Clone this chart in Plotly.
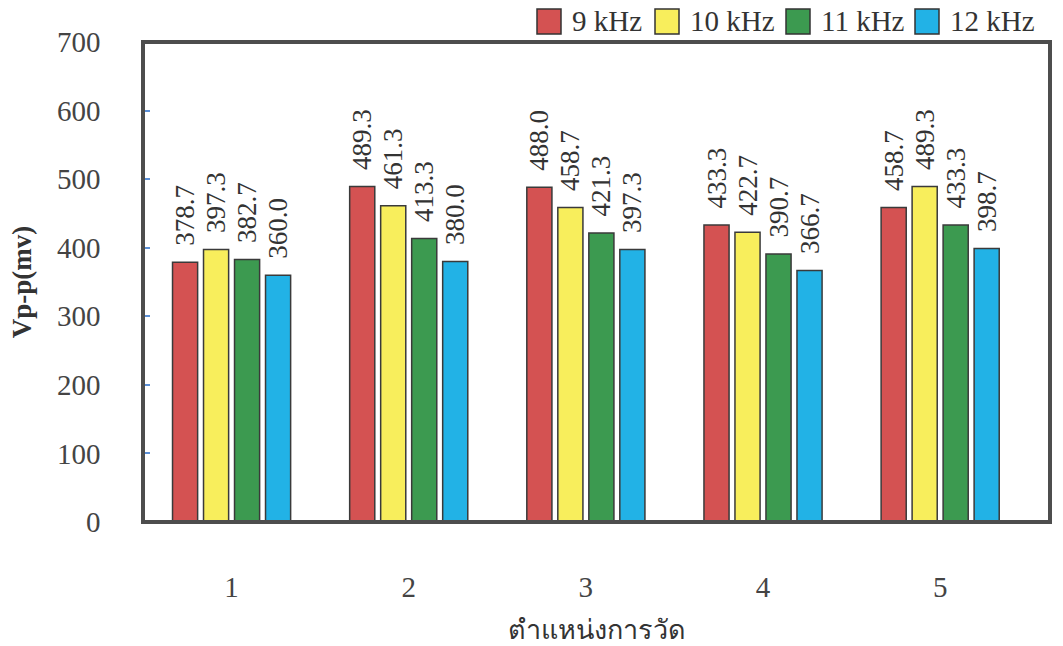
import plotly.graph_objects as go

positions = [1, 2, 3, 4, 5]
series_names = ["9 kHz", "10 kHz", "11 kHz", "12 kHz"]
vpp_9k = [378.7, 489.3, 488.0, 433.3, 458.7]
vpp_10k = [397.3, 461.3, 458.7, 422.7, 489.3]
vpp_11k = [382.7, 413.3, 421.3, 390.7, 433.3]
vpp_12k = [360.0, 380.0, 397.3, 366.7, 398.7]
colors = ["#d45252", "#f8ee5c", "#3c9a50", "#22b2e6"]

serif = "Liberation Serif, Times New Roman, serif"
W, H = 1063, 646
ML, MR, MT, MB = 143, 13, 42, 124
PW, PH = W - ML - MR, H - MT - MB


def px_to_paper(px, py):
    return (px - ML) / PW, (H - MB - py) / PH


fig = go.Figure()
for name, vals, col in zip(series_names, [vpp_9k, vpp_10k, vpp_11k, vpp_12k], colors):
    fig.add_trace(go.Bar(
        x=positions, y=vals, name=name, showlegend=False,
        marker=dict(color=col, line=dict(color="#3a3a3a", width=1.5)),
        # non-breaking spaces lift the rotated value label off the bar top
        text=["\u00a0\u00a0" + f"{v:.1f}" for v in vals],
        textposition="outside", textangle=-90,
        textfont=dict(family=serif, size=27, color="#333333"),
        cliponaxis=False,
    ))

fig.update_layout(
    width=W, height=H,
    margin=dict(l=ML, r=MR, t=MT, b=MB, autoexpand=False),
    paper_bgcolor="white", plot_bgcolor="white",
    barmode="group", bargap=0.30, bargroupgap=0.19,
    font=dict(family=serif, color="#333333"),
    uniformtext=dict(mode="show", minsize=27),
)

fig.update_xaxes(
    range=[0.5, 5.62], tickvals=positions, ticktext=[str(p) for p in positions],
    showgrid=False, zeroline=False, showline=False, ticks="",
    ticklabelstandoff=45, automargin=False,
    tickfont=dict(family=serif, size=29, color="#444444"),
    title=dict(text="ตำแหน่งการวัด", font=dict(family=serif, size=27, color="#333333"), standoff=18),
)
fig.update_yaxes(
    range=[0, 700], dtick=100, showgrid=False, zeroline=False,
    showline=True, linecolor="#5b8fd6", linewidth=1.5,
    ticks="inside", ticklen=7, tickcolor="#5b8fd6", tickwidth=1.5,
    ticklabelstandoff=35, automargin=False,
    tickfont=dict(family=serif, size=29, color="#444444"),
    title=dict(text="<b>Vp-p(mv)</b>", font=dict(family=serif, size=27, color="#333333"), standoff=18),
)

# Heavy frame around the plotting area
fig.add_shape(type="rect", xref="paper", yref="paper", x0=0, y0=0, x1=1, y1=1,
              line=dict(color="#4d4d4d", width=4), layer="above")

# Legend row across the top: outlined colour swatch followed by its label
legend_box_left = [537, 655, 786, 915]
for name, col, bx in zip(series_names, colors, legend_box_left):
    x0, y0 = px_to_paper(bx, 34)
    x1, y1 = px_to_paper(bx + 24, 9)
    fig.add_shape(type="rect", xref="paper", yref="paper", x0=x0, y0=y0, x1=x1, y1=y1,
                  fillcolor=col, line=dict(color="#333333", width=1.5))
    tx, ty = px_to_paper(bx + 33, 21)
    fig.add_annotation(xref="paper", yref="paper", x=tx, y=ty, text=name,
                       showarrow=False, xanchor="left", yanchor="middle",
                       font=dict(family=serif, size=29, color="#333333"))

fig.write_html("out.html")
